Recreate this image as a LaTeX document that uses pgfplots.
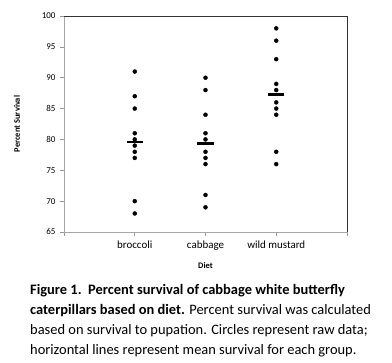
\documentclass[border=0pt]{standalone}
\usepackage{pgfplots}
\pgfplotsset{compat=1.18}
\usepackage{fontspec}
\setmainfont{Carlito}
\begin{document}
\begin{tikzpicture}
\useasboundingbox (0bp,0bp) rectangle (392bp,-363bp);
\begin{axis}[
  scale only axis,
  width=283bp, height=216bp,
  at={(64bp,-232bp)}, anchor=south west,
  xmin=0, xmax=4, ymin=65, ymax=100,
  xtick={0,1,2,3,4},
  xticklabels={,broccoli,cabbage,wild mustard,},
  ytick={65,70,...,100},
  xtick pos=bottom, ytick pos=left,
  tick align=outside,
  major tick length=4bp,
  tick style={gray!80, line width=0.6bp},
  axis line style={gray!70, line width=0.6bp},
  /pgf/number format/assume math mode=true,
  x tick label style={font=\fontsize{11}{12}\selectfont, yshift=-1bp},
  y tick label style={font=\fontsize{9}{10}\selectfont, xshift=-1bp},
  xlabel={\textbf{Diet}},
  ylabel={\textbf{Percent Survival}},
  xlabel style={font=\fontsize{8.5}{10}\selectfont, yshift=-6bp},
  ylabel style={font=\fontsize{8.5}{10}\selectfont, yshift=15bp},
  clip=false,
]
\addplot[only marks, mark=*, mark size=2bp, black] coordinates {
 (1,91) (1,87) (1,85) (1,81) (1,80) (1,79) (1,78) (1,77) (1,70) (1,68)
 (2,90) (2,88) (2,84) (2,81) (2,80) (2,78) (2,77) (2,76) (2,71) (2,69)
 (3,98) (3,96) (3,93) (3,89) (3,88) (3,86) (3,85) (3,84) (3,78) (3,76)
};
\addplot[only marks, mark=-, mark size=8bp, black, mark options={line width=2.8bp}] coordinates {
 (1,79.6) (2,79.4) (3,87.3)
};
\draw[black!80, line width=0.7bp] (rel axis cs:0,1) -- (rel axis cs:1,1) -- (rel axis cs:1,0);
\end{axis}
\begin{scope}[every node/.style={anchor=base west, inner sep=0pt, font=\fontsize{14.5}{20}\selectfont}]
\node at (30bp,-294bp) {\textbf{Figure 1.\ \ Percent survival of cabbage white butterfly}};
\node at (30bp,-314bp) {\textbf{caterpillars based on diet.} Percent survival was calculated};
\node at (30bp,-334bp) {based on survival to pupation. Circles\ represent raw data;};
\node at (30bp,-354bp) {horizontal lines represent mean survival for each group.};
\end{scope}
\end{tikzpicture}
\end{document}
